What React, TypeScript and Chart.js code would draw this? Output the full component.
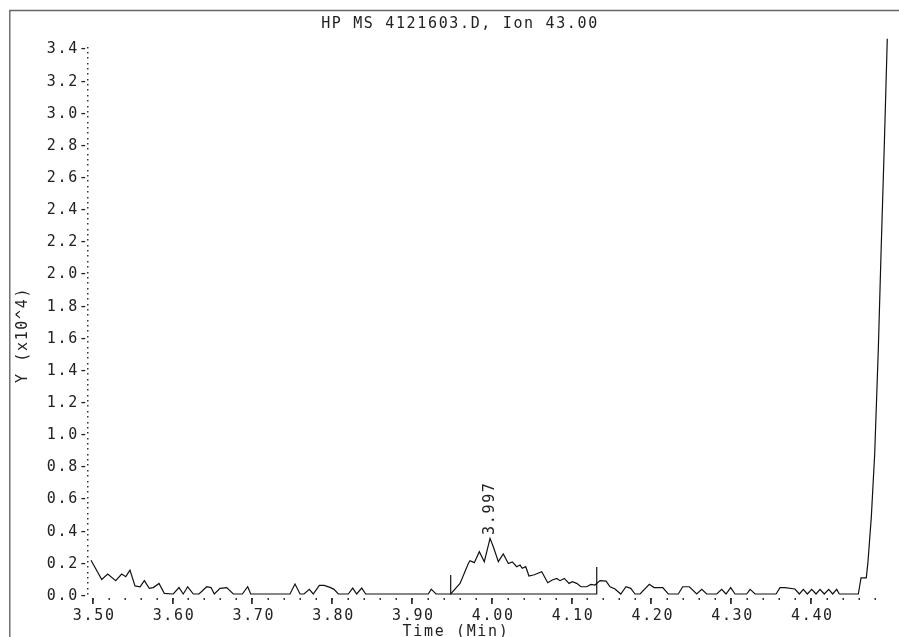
import React, { useEffect, useRef } from "react";
import { Chart, registerables } from "chart.js";

Chart.register(...registerables);

// Retention time (min) and abundance (x10^4)
const times = [
  3.4979, 3.5113, 3.5188, 3.5288, 3.5363, 3.5414, 3.5467, 3.553, 3.5593, 3.5647,
  3.5709, 3.5759, 3.5831, 3.5897, 3.601, 3.6081, 3.6135, 3.619, 3.6261, 3.6332,
  3.6429, 3.6482, 3.6524, 3.6595, 3.6679, 3.6762, 3.6875, 3.6942, 3.698, 3.7472,
  3.7535, 3.7598, 3.7648, 3.7714, 3.7764, 3.784, 3.7899, 3.7974, 3.8024, 3.8078,
  3.8203, 3.8258, 3.8308, 3.8371, 3.8421, 3.9206, 3.9242, 3.9302, 3.9486, 3.9603,
  3.9707, 3.9728, 3.9782, 3.9845, 3.9907, 3.9979, 4.002, 4.0083, 4.0145, 4.0208,
  4.0258, 4.0313, 4.0355, 4.0383, 4.0426, 4.0467, 4.0534, 4.0627, 4.0702, 4.0759,
  4.0815, 4.0856, 4.091, 4.0969, 4.101, 4.1065, 4.1119, 4.119, 4.1244, 4.1294,
  4.1357, 4.1433, 4.1483, 4.1545, 4.1617, 4.1683, 4.1742, 4.1796, 4.1859, 4.1975,
  4.2034, 4.2143, 4.2213, 4.2338, 4.2393, 4.2476, 4.2569, 4.2632, 4.2694, 4.282,
  4.2882, 4.2936, 4.2995, 4.3049, 4.3195, 4.3238, 4.33, 4.3563, 4.3613, 4.3675,
  4.38, 4.3855, 4.3905, 4.3955, 4.401, 4.4064, 4.4114, 4.4168, 4.4223, 4.4273,
  4.4323, 4.4356, 4.4594, 4.4628, 4.4694, 4.4715, 4.4757, 4.4799, 4.4845, 4.4878,
  4.492, 4.4957,
];
const abundance = [
  0.21, 0.09, 0.124, 0.083, 0.124, 0.108, 0.149, 0.05, 0.045, 0.083,
  0.035, 0.04, 0.066, 0.004, 0, 0.04, 0, 0.045, 0, 0,
  0.045, 0.04, 0, 0.035, 0.04, 0, 0, 0.045, 0, 0,
  0.062, 0, 0, 0.029, 0, 0.054, 0.054, 0.041, 0.029, 0,
  0, 0.037, 0, 0.037, 0, 0, 0.03, 0, 0, 0.066,
  0.19, 0.207, 0.195, 0.263, 0.201, 0.346, 0.294, 0.201, 0.249, 0.19,
  0.2, 0.17, 0.18, 0.16, 0.17, 0.112, 0.12, 0.139, 0.07, 0.087,
  0.097, 0.083, 0.097, 0.066, 0.077, 0.066, 0.045, 0.045, 0.06, 0.056,
  0.083, 0.08, 0.045, 0.031, 0, 0.045, 0.035, 0, 0, 0.06,
  0.04, 0.04, 0, 0, 0.045, 0.045, 0, 0.029, 0, 0,
  0.029, 0, 0.04, 0, 0, 0.029, 0, 0, 0.04, 0.04,
  0.031, 0, 0.029, 0, 0.029, 0, 0.029, 0, 0.029, 0,
  0.029, 0, 0, 0.1, 0.1, 0.2, 0.48, 0.87, 1.53, 2.11,
  2.8, 3.455,
];

// Integration marks: [start time, start marker height], [end time, end marker height]
const integrationTimes = [3.9486, 3.9486, 4.1316, 4.1316];
const integrationValues = [0.118, 0, 0, 0.168];

// Peak labels
const peakTimes = [3.9979];
const peakValues = [0.346];
const peakLabels = ["3.997"];

// Axis ticks
const xMajorTicks = [3.5, 3.6, 3.7, 3.8, 3.9, 4.0, 4.1, 4.2, 4.3, 4.4];
const xMinorStep = 0.02;
const xMinorLast = 4.48;
const yTicks = [0, 0.2, 0.4, 0.6, 0.8, 1.0, 1.2, 1.4, 1.6, 1.8, 2.0, 2.2, 2.4, 2.6, 2.8, 3.0, 3.2, 3.4];
const yDotsPerMajor = 6;

const title = "HP MS 4121603.D, Ion 43.00";
const xTitle = "Time (Min)";
const yTitle = "Y (x10^4)";

const FONT = '15px "DejaVu Sans Mono"';
const TEXT = "#222";

const overlay = {
  id: "hpOverlay",
  afterDraw(chart: any) {
    const ctx = chart.ctx as CanvasRenderingContext2D;
    const xs = chart.scales.x;
    const ys = chart.scales.y;
    const area = chart.chartArea;
    ctx.save();
    (ctx as any).letterSpacing = "1.65px";
    ctx.font = FONT;
    ctx.fillStyle = TEXT;

    // frame
    ctx.strokeStyle = "#666";
    ctx.lineWidth = 1.4;
    ctx.beginPath();
    ctx.moveTo(9.8, chart.height);
    ctx.lineTo(9.8, 10.5);
    ctx.lineTo(chart.width, 10.5);
    ctx.stroke();

    // title
    ctx.textAlign = "center";
    ctx.textBaseline = "alphabetic";
    ctx.fillText(title, 460, 28);

    // y axis dotted line
    const axisX = area.left;
    const yTop = ys.getPixelForValue(yTicks[yTicks.length - 1]) - 4;
    const yStep = (yTicks[1] - yTicks[0]) / yDotsPerMajor;
    ctx.fillStyle = "#333";
    for (let v = 0; ys.getPixelForValue(v) >= yTop; v += yStep) {
      const py = ys.getPixelForValue(v);
      ctx.fillRect(axisX - 1, Math.round(py) - 1, 1.5, 1.5);
    }
    // y labels
    ctx.fillStyle = TEXT;
    ctx.textAlign = "right";
    for (const v of yTicks) {
      const py = ys.getPixelForValue(v);
      ctx.fillText(v.toFixed(1) + "-", axisX + 1.5, py + 5.8);
    }

    // x minor ticks
    ctx.fillStyle = "#333";
    const tickY = ys.getPixelForValue(0) + 4;
    for (let t = xMajorTicks[0]; t <= xMinorLast + 1e-6; t += xMinorStep) {
      const px = xs.getPixelForValue(t);
      ctx.fillRect(Math.round(px) - 0.5, tickY, 1.5, 2);
    }
    // x major ticks + labels
    ctx.textAlign = "center";
    for (const t of xMajorTicks) {
      const px = xs.getPixelForValue(t);
      ctx.fillStyle = "#333";
      ctx.fillRect(Math.round(px) - 1, tickY, 1.8, 6);
      ctx.fillStyle = TEXT;
      ctx.fillText(t.toFixed(2), px + 1.5, 620);
    }
    // x title
    ctx.fillText(xTitle, 456, 636);

    // y title (rotated)
    ctx.save();
    ctx.translate(21, 335);
    ctx.rotate(-Math.PI / 2);
    ctx.textAlign = "center";
    ctx.textBaseline = "alphabetic";
    ctx.fillText(yTitle, 0, 5.5);
    ctx.restore();

    // peak labels (rotated)
    for (let i = 0; i < peakTimes.length; i++) {
      const px = xs.getPixelForValue(peakTimes[i]);
      const py = ys.getPixelForValue(peakValues[i]);
      ctx.save();
      ctx.translate(px - 2, py - 3.5);
      ctx.rotate(-Math.PI / 2);
      ctx.textAlign = "left";
      ctx.textBaseline = "alphabetic";
      ctx.fillText(peakLabels[i], 0, 5.5);
      ctx.restore();
    }
    ctx.restore();
  },
};

export default function App() {
  const ref = useRef<HTMLCanvasElement | null>(null);
  useEffect(() => {
    if (!ref.current) return;
    const chart = new Chart(ref.current, {
      type: "line",
      data: {
        datasets: [
          {
            data: times.map((t, i) => ({ x: t, y: abundance[i] })),
            borderColor: "#111",
            borderWidth: 1.2,
            pointRadius: 0,
            tension: 0,
            fill: false,
            clip: 10,
          } as any,
          {
            data: integrationTimes.map((t, i) => ({ x: t, y: integrationValues[i] })),
            borderColor: "#111",
            borderWidth: 1.2,
            pointRadius: 0,
            tension: 0,
            fill: false,
            clip: 10,
          } as any,
        ],
      },
      options: {
        animation: false,
        responsive: false,
        layout: { padding: { left: 88, right: 9, top: 31.5, bottom: 43 } },
        plugins: { legend: { display: false }, tooltip: { enabled: false }, title: { display: false } },
        scales: {
          x: { type: "linear", min: 3.4941, max: 4.4991, display: false },
          y: { type: "linear", min: 0, max: 3.5, display: false },
        },
      },
      plugins: [overlay],
    });
    return () => chart.destroy();
  }, []);
  return (
    <div style={{ position: "fixed", left: 0, top: 0, width: 899, height: 637, background: "#fff" }}>
      <canvas ref={ref} width={899} height={637} style={{ display: "block" }} />
    </div>
  );
}
